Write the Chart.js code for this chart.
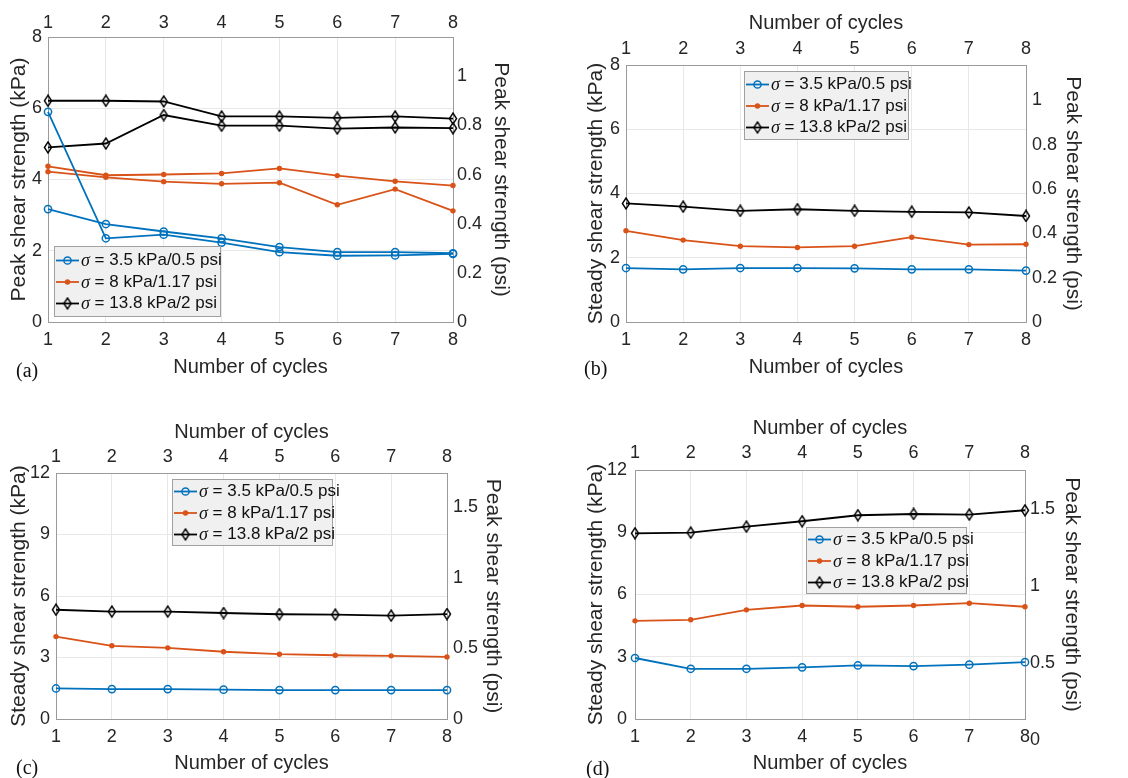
<!DOCTYPE html>
<html>
<head>
<meta charset="utf-8">
<script src="https://cdn.jsdelivr.net/npm/chart.js@4.4.1/dist/chart.umd.min.js"></script>
<style>
  body { margin: 0; background: #fff; width: 1128px; height: 778px; position: relative; overflow: hidden; }
  canvas { position: absolute; }
  .tag { position: absolute; font: 20px "Liberation Serif", "Times New Roman", serif; line-height: 22px; color: #111; }
</style>
</head>
<body>
<canvas id="pa" width="560" height="390" style="left:0;top:0"></canvas>
<canvas id="pb" width="568" height="390" style="left:560px;top:0"></canvas>
<canvas id="pc" width="560" height="378" style="left:0;top:400px"></canvas>
<canvas id="pd" width="568" height="378" style="left:560px;top:400px"></canvas>
<div class="tag" style="left:16px;top:359px">(a)</div>
<div class="tag" style="left:584px;top:357px">(b)</div>
<div class="tag" style="left:16px;top:756px">(c)</div>
<div class="tag" style="left:586px;top:757px">(d)</div>
<script>
// valores
const cycles = [1, 2, 3, 4, 5, 6, 7, 8];
const legendLabels = ["σ = 3.5 kPa/0.5 psi", "σ = 8 kPa/1.17 psi", "σ = 13.8 kPa/2 psi"];
const kpaTicksTop = [0, 2, 4, 6, 8];
const kpaTicksBottom = [0, 3, 6, 9, 12];
const psiTicksTop = [0, 0.2, 0.4, 0.6, 0.8, 1];
const psiTicksBottom = [0, 0.5, 1, 1.5];

// (a) peak, dos ensayos por esfuerzo normal
const aBlue1 = [5.90, 2.35, 2.45, 2.23, 1.96, 1.86, 1.87, 1.91];
const aBlue2 = [3.17, 2.75, 2.54, 2.35, 2.10, 1.96, 1.96, 1.93];
const aOrange1 = [4.37, 4.12, 4.14, 4.17, 4.31, 4.11, 3.95, 3.83];
const aOrange2 = [4.22, 4.06, 3.94, 3.88, 3.91, 3.29, 3.73, 3.12];
const aBlack1 = [6.21, 6.21, 6.19, 5.77, 5.77, 5.73, 5.77, 5.71];
const aBlack2 = [4.90, 5.01, 5.81, 5.51, 5.51, 5.43, 5.46, 5.44];
// (b)
const bBlue = [1.68, 1.64, 1.68, 1.68, 1.67, 1.64, 1.64, 1.60];
const bOrange = [2.84, 2.55, 2.36, 2.32, 2.36, 2.64, 2.41, 2.42];
const bBlack = [3.69, 3.59, 3.46, 3.51, 3.46, 3.43, 3.41, 3.30];
// (c)
const cBlue = [1.49, 1.46, 1.46, 1.43, 1.41, 1.41, 1.41, 1.41];
const cOrange = [4.02, 3.57, 3.47, 3.28, 3.16, 3.11, 3.08, 3.03];
const cBlack = [5.33, 5.24, 5.24, 5.17, 5.11, 5.09, 5.04, 5.12];
// (d)
const dBlue = [2.94, 2.42, 2.42, 2.49, 2.58, 2.55, 2.62, 2.74];
const dOrange = [4.73, 4.78, 5.26, 5.47, 5.41, 5.47, 5.58, 5.41];
const dBlack = [8.95, 8.98, 9.27, 9.53, 9.82, 9.88, 9.85, 10.06];

const KPA_PER_PSI = 6.895;
const txt = "#262626";
const gridC = "#e8e8e8";
const axC = "#9a9a9a";
const sans = '"Liberation Sans", Arial, sans-serif';
const tickFont = { family: sans, size: 18 };
const titleFont = { family: sans, size: 20 };
const vTitleFont = { family: sans, size: 21 };

const styles = [
  { color: "#0072BD", marker: "circle" },
  { color: "#D95319", marker: "dot" },
  { color: "#000000", marker: "diamond" },
];

// rombo angosto tipo matlab
function diamondImg() {
  const c = document.createElement("canvas");
  c.width = 10; c.height = 13;
  const g = c.getContext("2d");
  g.strokeStyle = "#000"; g.lineWidth = 1.4;
  g.beginPath();
  g.moveTo(5, 1); g.lineTo(8.6, 6.5); g.lineTo(5, 12); g.lineTo(1.4, 6.5);
  g.closePath(); g.stroke();
  return c;
}
const diamond = diamondImg();

function fmt(v) { return String(+Number(v).toFixed(2)); }

function line(vals, k) {
  const s = styles[k];
  const ds = {
    data: cycles.map((c, i) => ({ x: c, y: vals[i] })),
    borderColor: s.color,
    borderWidth: 1.8,
    fill: false,
    tension: 0,
    clip: false,
    xAxisID: "x",
    yAxisID: "y",
  };
  if (s.marker === "circle") {
    Object.assign(ds, { pointStyle: "circle", pointRadius: 3.6, pointBorderWidth: 1.5,
      pointBorderColor: s.color, pointBackgroundColor: "rgba(0,0,0,0)" });
  } else if (s.marker === "dot") {
    Object.assign(ds, { pointStyle: "circle", pointRadius: 2.7, pointBorderWidth: 0,
      pointBackgroundColor: s.color });
  } else {
    Object.assign(ds, { pointStyle: diamond, pointRadius: 5 });
  }
  return ds;
}

function drawMarker(ctx, kind, x, y, color) {
  ctx.beginPath();
  if (kind === "circle") {
    ctx.arc(x, y, 3.6, 0, 2 * Math.PI);
    ctx.strokeStyle = color; ctx.lineWidth = 1.5; ctx.stroke();
  } else if (kind === "dot") {
    ctx.arc(x, y, 2.7, 0, 2 * Math.PI);
    ctx.fillStyle = color; ctx.fill();
  } else {
    ctx.drawImage(diamond, x - 5, y - 6.5);
  }
}

// leyenda con caja gris dentro del grafico
const boxLegend = {
  id: "boxLegend",
  afterDraw(chart, args, o) {
    const ctx = chart.ctx;
    ctx.save();
    ctx.fillStyle = "#f0f0f0";
    ctx.strokeStyle = "#a0a0a0";
    ctx.lineWidth = 1;
    ctx.fillRect(o.x, o.y, o.w, o.h);
    ctx.strokeRect(o.x + 0.5, o.y + 0.5, o.w, o.h);
    legendLabels.forEach((lab, i) => {
      const cy = o.y + o.h / 2 + (i - 1) * 21.5 + 1;
      const s = styles[i];
      ctx.beginPath();
      ctx.moveTo(o.x + 2, cy); ctx.lineTo(o.x + 25, cy);
      ctx.strokeStyle = s.color; ctx.lineWidth = 1.8; ctx.stroke();
      drawMarker(ctx, s.marker, o.x + 13.5, cy, s.color);
      ctx.fillStyle = "#111";
      ctx.textBaseline = "middle";
      ctx.textAlign = "left";
      ctx.font = 'italic 18px "Liberation Serif", serif';
      ctx.fillText(lab[0], o.x + 27, cy + 1);
      const sw = ctx.measureText(lab[0]).width;
      ctx.font = '17px ' + sans;
      ctx.fillText(lab.slice(1), o.x + 27 + sw, cy);
    });
    ctx.restore();
  },
};

function makePanel(id, p) {
  const cv = document.getElementById(id);
  const W = cv.width, H = cv.height;
  return new Chart(cv.getContext("2d"), {
    type: "line",
    data: { datasets: p.datasets },
    plugins: [boxLegend],
    options: {
      responsive: false,
      animation: false,
      events: [],
      layout: { padding: 0 },
      plugins: { legend: { display: false }, tooltip: { enabled: false }, boxLegend: p.legend },
      scales: {
        x: {
          type: "linear", position: "bottom", min: 1, max: 8,
          ticks: { stepSize: 1, font: tickFont, color: txt, padding: 7, maxRotation: 0, autoSkip: false },
          grid: { color: gridC, drawTicks: false },
          border: { color: axC },
          title: { display: true, text: "Number of cycles", font: titleFont, color: txt,
            padding: { top: 0, bottom: p.xTitlePad } },
          afterFit: (s) => { s.height = H - p.area.bottom; },
        },
        x2: {
          type: "linear", position: "top", min: 1, max: 8,
          ticks: { stepSize: 1, font: tickFont, color: txt, padding: p.topTickPad, maxRotation: 0, autoSkip: false },
          grid: { display: false, drawTicks: false },
          border: { color: axC },
          title: { display: p.topTitle, text: "Number of cycles", font: titleFont, color: txt,
            padding: { top: p.topTitlePad || 0, bottom: 0 } },
          afterFit: (s) => { s.height = p.area.top; },
        },
        y: {
          position: "left", min: 0, max: p.kpaTicks[p.kpaTicks.length - 1],
          afterBuildTicks: (s) => { s.ticks = p.kpaTicks.map((v) => ({ value: v })); },
          ticks: { font: tickFont, color: txt, padding: p.yTickPad, callback: fmt },
          grid: { color: gridC, drawTicks: false },
          border: { color: axC },
          title: { display: true, text: p.yTitle, font: vTitleFont, color: txt,
            padding: { top: p.yTitlePad, bottom: 0 } },
          afterFit: (s) => { s.width = p.area.left; },
        },
        y2: {
          position: "right", min: p.psiMin, max: p.psiMax,
          afterBuildTicks: (s) => { s.ticks = p.psiTicks.map((v) => ({ value: v })); },
          ticks: { font: tickFont, color: txt, padding: p.y2TickPad, callback: fmt },
          grid: { display: false, drawTicks: false },
          border: { color: axC },
          title: { display: true, text: "Peak shear strength (psi)", font: vTitleFont, color: txt,
            padding: { top: p.y2TitlePad, bottom: 0 } },
          afterFit: (s) => { s.width = W - p.area.right; },
        },
      },
    },
  });
}

makePanel("pa", {
  datasets: [line(aBlue1, 0), line(aBlue2, 0), line(aOrange1, 1), line(aOrange2, 1), line(aBlack1, 2), line(aBlack2, 2)],
  area: { left: 48, right: 453, top: 37, bottom: 322 },
  kpaTicks: kpaTicksTop, psiTicks: psiTicksTop, psiMin: 0, psiMax: 8 / KPA_PER_PSI,
  yTitle: "Peak shear strength (kPa)", yTitlePad: 7, yTickPad: 6,
  topTitle: false, topTickPad: 3, xTitlePad: 11, y2TickPad: 4, y2TitlePad: 47,
  legend: { x: 54, y: 246, w: 166, h: 70 },
});

makePanel("pb", {
  datasets: [line(bBlue, 0), line(bOrange, 1), line(bBlack, 2)],
  area: { left: 66, right: 466, top: 65, bottom: 322 },
  kpaTicks: kpaTicksTop, psiTicks: psiTicksTop, psiMin: 0, psiMax: 8 / KPA_PER_PSI,
  yTitle: "Steady shear strength (kPa)", yTitlePad: 24, yTickPad: 6,
  topTitle: true, topTitlePad: 11, topTickPad: 5, xTitlePad: 11, y2TickPad: 6, y2TitlePad: 43,
  legend: { x: 184, y: 71, w: 164, h: 68 },
});

makePanel("pc", {
  datasets: [line(cBlue, 0), line(cOrange, 1), line(cBlack, 2)],
  area: { left: 56, right: 447, top: 73, bottom: 319 },
  kpaTicks: kpaTicksBottom, psiTicks: psiTicksBottom, psiMin: 0, psiMax: 12 / KPA_PER_PSI,
  yTitle: "Steady shear strength (kPa)", yTitlePad: 7, yTickPad: 6,
  topTitle: true, topTitlePad: 20, topTickPad: 5, xTitlePad: 3, y2TickPad: 6, y2TitlePad: 55,
  legend: { x: 172, y: 79, w: 160, h: 66 },
});

// en (d) el eje derecho esta corrido hacia abajo en el original
makePanel("pd", {
  datasets: [line(dBlue, 0), line(dOrange, 1), line(dBlack, 2)],
  area: { left: 75, right: 465, top: 70, bottom: 319 },
  kpaTicks: kpaTicksBottom, psiTicks: psiTicksBottom, psiMin: 0.136, psiMax: 1.753,
  yTitle: "Steady shear strength (kPa)", yTitlePad: 24, yTickPad: 8,
  topTitle: true, topTitlePad: 16, topTickPad: 6, xTitlePad: 3, y2TickPad: 5, y2TitlePad: 44,
  legend: { x: 246, y: 127, w: 160, h: 66 },
});
</script>
</body>
</html>
